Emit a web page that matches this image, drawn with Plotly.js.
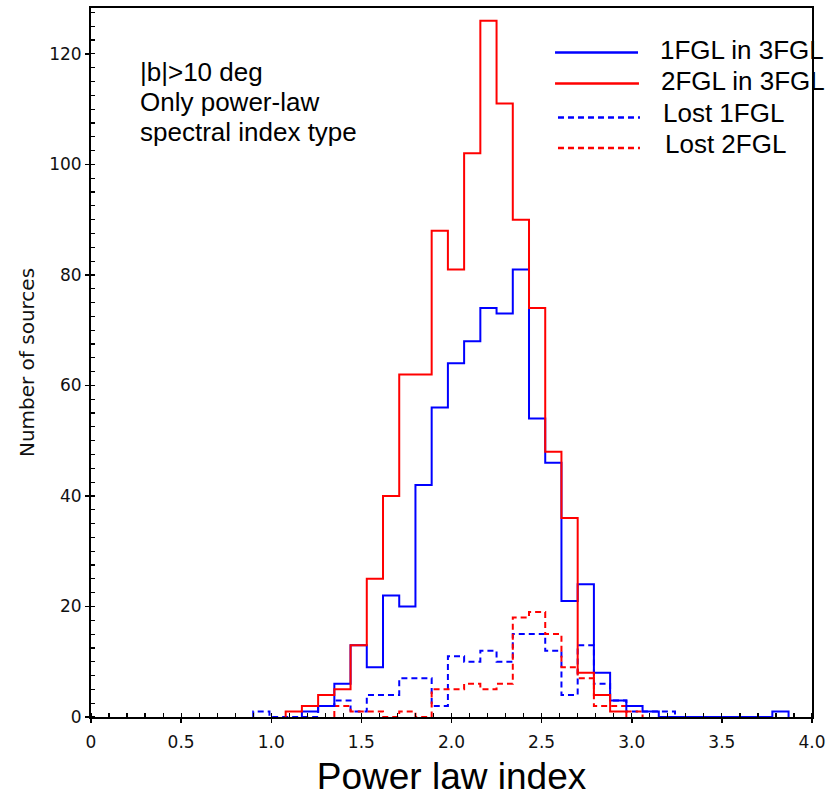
<!DOCTYPE html>
<html>
<head>
<meta charset="utf-8">
<script src="https://cdn.plot.ly/plotly-3.0.1.min.js"></script>
<style>html,body{margin:0;padding:0;background:#fff;}</style>
</head>
<body>
<div id="chart" style="width:838px;height:797px;"></div>
<script>
// Histogram bins (power-law index), width 0.09 starting at 0.90
const binStart = 0.90;
const binWidth = 0.09;
const binCount = 33;

// Counts per bin
const fgl1In3FGL = [0,0,0,1,2,6,13,9,22,20,42,56,64,68,74,73,81,54,46,21,24,8,3,2,1,0,0,0,0,0,0,0,1];
const fgl2In3FGL = [0,0,1,2,4,5,13,25,40,62,62,88,81,102,126,111,90,74,48,36,8,4,1,0,0,0,0,0,0,0,0,0,0];
const lost1FGL   = [1,0,0,0,2,3,1,4,4,7,7,2,11,10,12,10,15,15,12,4,13,6,3,1,1,1,0,0,0,0,0,0,0];
const lost2FGL   = [0,0,0,0,0,2,1,1,0,1,0,5,5,6,5,6,18,19,15,9,7,2,2,1,0,0,0,0,0,0,0,0,0];

const seriesNames = ['1FGL in 3FGL', '2FGL in 3FGL', 'Lost 1FGL', 'Lost 2FGL'];

const xTickVals = [0, 0.5, 1.0, 1.5, 2.0, 2.5, 3.0, 3.5, 4.0];
const xTickText = ['0', '0.5', '1.0', '1.5', '2.0', '2.5', '3.0', '3.5', '4.0'];
const yTickVals = [0, 20, 40, 60, 80, 100, 120];
const yTickText = ['0', '20', '40', '60', '80', '100', '120'];

const noteLines = ['|b|>10 deg', 'Only power-law', 'spectral index type'];

function edge(i) { return Math.round((binStart + i * binWidth) * 1000) / 1000; }

function stepXY(counts) {
  let i0 = 0, i1 = counts.length - 1;
  while (i0 < counts.length && counts[i0] === 0) i0++;
  while (i1 > 0 && counts[i1] === 0) i1--;
  const xs = [edge(i0)], ys = [0];
  for (let i = i0; i <= i1; i++) { xs.push(edge(i)); ys.push(counts[i]); }
  xs.push(edge(i1 + 1)); ys.push(0);
  return {x: xs, y: ys};
}

const BLUE = 'rgb(0,0,255)';
const RED = 'rgb(255,0,0)';
const styles = [
  {color: BLUE, dash: 'solid'},
  {color: RED, dash: 'solid'},
  {color: BLUE, dash: '6px,4px'},
  {color: RED, dash: '6px,4px'}
];
const allCounts = [fgl1In3FGL, fgl2In3FGL, lost1FGL, lost2FGL];
const drawOrder = [2, 3, 0, 1];

const traces = drawOrder.map(function (k) {
  const s = stepXY(allCounts[k]);
  return {
    type: 'scatter', mode: 'lines', name: seriesNames[k],
    x: s.x, y: s.y,
    line: {shape: 'hv', color: styles[k].color, width: 2, dash: styles[k].dash},
    hoverinfo: 'skip', showlegend: false
  };
});

// manual legend (long sample lines as in the reference)
const legendLineY = [0.9374, 0.8936, 0.8456, 0.8027];
const legendLineX0 = [0.6436, 0.6436, 0.6477, 0.6477];
const legendLineX1 = [0.7587, 0.7600, 0.7614, 0.7614];
const legendTextX = [0.7864, 0.7878, 0.7902, 0.7938];
const legendTextY = [0.9410, 0.8972, 0.8517, 0.8079];

const textFont = {family: 'Liberation Sans, Arial, sans-serif', size: 26, color: '#000'};

const shapes = [];
const annotations = [];
for (let k = 0; k < 4; k++) {
  shapes.push({type: 'line', xref: 'paper', yref: 'paper',
    x0: legendLineX0[k], x1: legendLineX1[k], y0: legendLineY[k], y1: legendLineY[k],
    line: {color: styles[k].color, width: 2.5, dash: styles[k].dash}});
  annotations.push({xref: 'paper', yref: 'paper', x: legendTextX[k], y: legendTextY[k],
    xanchor: 'left', yanchor: 'middle', showarrow: false, text: seriesNames[k],
    font: textFont});
}
const noteY = [0.9096, 0.8672, 0.8249];
noteLines.forEach(function (t, i) {
  annotations.push({xref: 'paper', yref: 'paper', x: 0.0652, y: noteY[i],
    xanchor: 'left', yanchor: 'middle', showarrow: false, text: t,
    font: textFont});
});

const tickFont = {family: 'DejaVu Sans, sans-serif', size: 17, color: '#111'};

const layout = {
  width: 838, height: 797,
  margin: {l: 91, r: 26, t: 8, b: 80, pad: 0},
  paper_bgcolor: '#fff', plot_bgcolor: '#fff',
  showlegend: false,
  xaxis: {
    range: [0, 4.0], autorange: false,
    tickvals: xTickVals, ticktext: xTickText,
    ticks: 'outside', ticklen: 4, tickwidth: 1.5, tickcolor: '#000',
    ticklabelstandoff: 5,
    minor: {dtick: 0.1, tick0: 0, ticks: 'inside', ticklen: 4, tickwidth: 1.2, tickcolor: '#000', showgrid: false},
    showline: true, linecolor: '#000', linewidth: 2, mirror: true,
    showgrid: false, zeroline: false,
    tickfont: tickFont,
    title: {text: 'Power law index', standoff: 14,
      font: {family: 'Liberation Sans, Arial, sans-serif', size: 37, color: '#000'}},
    automargin: false
  },
  yaxis: {
    range: [0, 128.3], autorange: false,
    tickvals: yTickVals, ticktext: yTickText,
    ticks: 'outside', ticklen: 4, tickwidth: 1.5, tickcolor: '#000',
    minor: {dtick: 2.5, tick0: 0, ticks: 'inside', ticklen: 4, tickwidth: 1.2, tickcolor: '#000', showgrid: false},
    showline: true, linecolor: '#000', linewidth: 2, mirror: true,
    showgrid: false, zeroline: false,
    tickfont: tickFont,
    title: {text: 'Number of sources', standoff: 9,
      font: {family: 'DejaVu Sans, sans-serif', size: 20, color: '#111'}},
    automargin: false
  },
  shapes: shapes,
  annotations: annotations
};

Plotly.newPlot('chart', traces, layout, {displayModeBar: false, staticPlot: true});
</script>
</body>
</html>
